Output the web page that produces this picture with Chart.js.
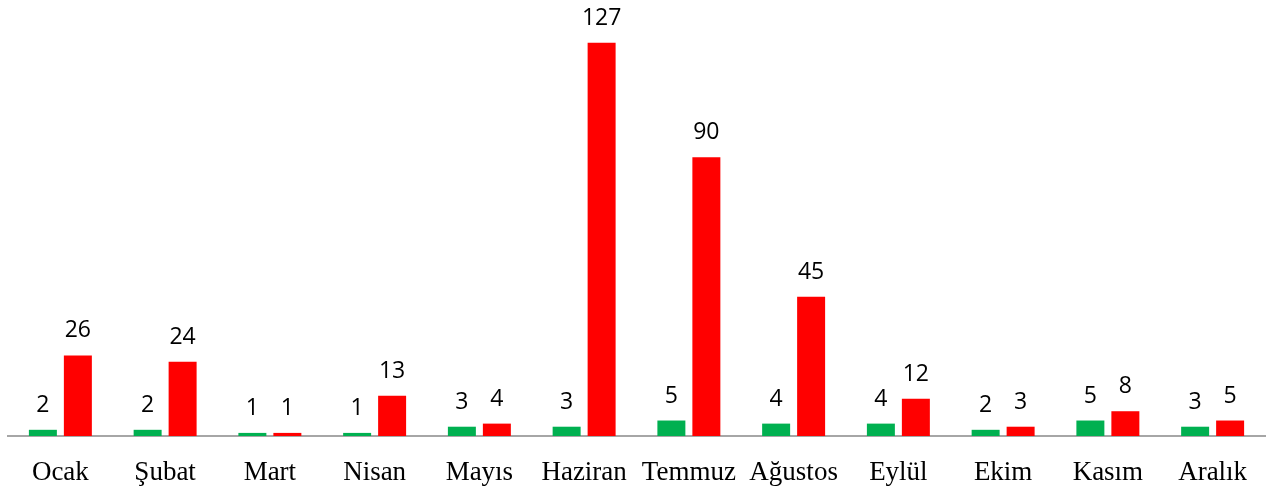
<!DOCTYPE html>
<html>
<head>
<meta charset="utf-8">
<script src="https://cdn.jsdelivr.net/npm/chart.js@4/dist/chart.umd.min.js"></script>
<style>
  html, body { margin: 0; padding: 0; background: #fff; }
  #wrap { width: 1277px; height: 493px; }
</style>
</head>
<body>
<div id="wrap"><canvas id="myChart"></canvas></div>
<script>
const months = ['Ocak', 'Şubat', 'Mart', 'Nisan', 'Mayıs', 'Haziran', 'Temmuz', 'Ağustos', 'Eylül', 'Ekim', 'Kasım', 'Aralık'];
const greenValues = [2, 2, 1, 1, 3, 3, 5, 4, 4, 2, 5, 3];
const redValues = [26, 24, 1, 13, 4, 127, 90, 45, 12, 3, 8, 5];

// draw the numbers above each bar
const barLabels = {
  id: 'barLabels',
  afterDatasetsDraw(chart) {
    const ctx = chart.ctx;
    ctx.save();
    ctx.font = '23px "Open Sans", sans-serif';
    ctx.fillStyle = '#000';
    ctx.textAlign = 'center';
    ctx.textBaseline = 'alphabetic';
    chart.data.datasets.forEach((ds, i) => {
      chart.getDatasetMeta(i).data.forEach((bar, j) => {
        ctx.fillText(ds.data[j], bar.x, bar.y - 18);
      });
    });
    ctx.restore();
  }
};

new Chart(document.getElementById('myChart'), {
  type: 'bar',
  data: {
    labels: months,
    datasets: [
      { label: 'A', data: greenValues, backgroundColor: '#00B050' },
      { label: 'B', data: redValues, backgroundColor: '#FF0000' }
    ]
  },
  options: {
    responsive: true,
    maintainAspectRatio: false,
    animation: false,
    categoryPercentage: 0.668,
    barPercentage: 0.8,
    layout: { padding: { left: 8, right: 12, top: 18, bottom: 0 } },
    plugins: { legend: { display: false }, tooltip: { enabled: false } },
    scales: {
      y: { display: false, min: 0, max: 135 },
      x: {
        grid: { display: false },
        border: { display: true, color: '#a6a6a6', width: 2 },
        afterFit(scale) { scale.height = 57; },
        ticks: {
          color: '#000',
          padding: 13,
          font: { family: '"Liberation Serif", serif', size: 27 }
        }
      }
    }
  },
  plugins: [barLabels]
});
</script>
</body>
</html>
